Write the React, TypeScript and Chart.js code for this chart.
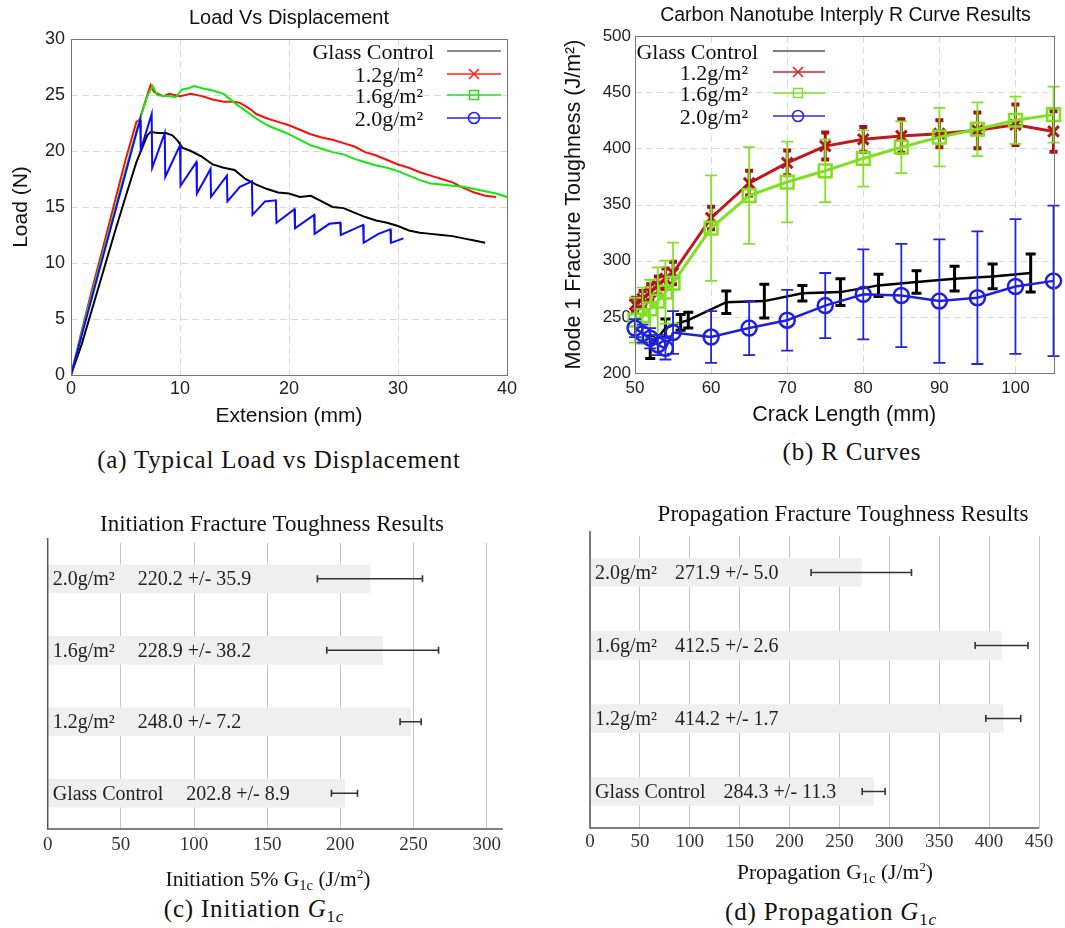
import React, { useEffect, useRef } from "react";
import { Chart, registerables } from "chart.js";

Chart.register(...registerables);

const SANS = "'Liberation Sans', Arial, sans-serif";
const SERIF = "'Liberation Serif', 'Times New Roman', serif";

// ---------------- (a) Load vs Displacement ----------------
const seriesNames = ["Glass Control", "1.2g/m²", "1.6g/m²", "2.0g/m²"];

const glassExt = [0, 1, 2, 3, 4, 5, 6, 7, 7.3, 8, 8.7, 9.3, 9.8, 10.2, 11, 12, 13, 14, 15, 16, 17, 18, 19, 20, 21, 22, 23, 24, 25, 26, 27, 28, 29, 30, 31, 32, 33, 34, 35, 36, 37, 38];
const glassLoad = [0, 2.8, 6.1, 9.4, 12.7, 15.9, 19.0, 21.4, 21.7, 21.6, 21.6, 21.4, 20.9, 20.3, 20.0, 19.5, 18.8, 18.5, 18.3, 17.5, 17.0, 16.6, 16.3, 16.2, 15.9, 16.0, 15.5, 15.0, 14.9, 14.5, 14.1, 13.8, 13.6, 13.3, 12.9, 12.7, 12.6, 12.5, 12.4, 12.2, 12.0, 11.8];

const cnt12Ext = [0, 1, 2, 3, 4, 5, 6, 6.3, 7, 7.3, 7.6, 8, 8.5, 9, 9.5, 10, 11, 12, 13, 14, 15, 15.5, 16, 16.5, 17, 18, 19, 20, 21, 22, 23, 24, 25, 26, 27, 28, 29, 30, 31, 32, 33, 34, 35, 36, 37, 38, 39];
const cnt12Load = [0, 4.0, 7.9, 11.6, 15.4, 19.2, 22.6, 22.8, 25.0, 25.9, 25.3, 25.1, 24.9, 25.1, 25.0, 24.9, 25.1, 24.9, 24.6, 24.4, 24.4, 24.3, 24.0, 23.7, 23.3, 22.9, 22.6, 22.3, 21.9, 21.5, 21.2, 21.0, 20.7, 20.4, 19.9, 19.6, 19.2, 18.8, 18.5, 18.1, 17.8, 17.5, 17.2, 16.7, 16.3, 16.0, 15.9];

const cnt16Ext = [0, 1, 2, 3, 4, 5, 6, 6.4, 7, 7.5, 7.9, 8.5, 9, 9.6, 10.2, 10.8, 11.3, 12, 13, 14, 14.5, 15, 16, 17, 18, 19, 20, 21, 22, 23, 24, 25, 26, 27, 28, 29, 30, 31, 32, 33, 34, 35, 36, 37, 38, 39, 40];
const cnt16Load = [0, 3.8, 7.5, 11.1, 14.7, 18.3, 21.8, 23.1, 24.9, 25.8, 25.0, 24.9, 24.9, 24.8, 25.5, 25.6, 25.8, 25.6, 25.4, 25.1, 24.7, 24.3, 23.6, 22.9, 22.3, 21.9, 21.5, 21.0, 20.5, 20.2, 19.9, 19.7, 19.3, 19.0, 18.7, 18.5, 18.2, 17.8, 17.4, 17.1, 17.0, 16.9, 16.8, 16.6, 16.4, 16.2, 15.9];

const cnt20Ext = [0, 1, 2, 3, 4, 5, 6, 6.35, 6.4, 7.4, 7.45, 8.6, 8.65, 10.0, 10.05, 11.5, 11.55, 12.8, 12.85, 14.3, 14.35, 15.5, 16.6, 16.65, 17.8, 18.8, 18.85, 20.5, 20.55, 22.3, 22.35, 23.7, 24.7, 24.75, 26.8, 26.85, 28.2, 29.3, 29.35, 30.5];
const cnt20Load = [0, 3.6, 7.2, 10.8, 14.4, 18.0, 21.6, 22.8, 20.1, 23.3, 18.5, 21.6, 17.7, 20.5, 16.9, 19.0, 16.2, 18.4, 15.9, 17.8, 15.5, 16.8, 17.3, 14.3, 15.5, 15.6, 13.6, 14.8, 13.1, 14.3, 12.6, 13.5, 13.6, 12.5, 13.4, 11.8, 12.6, 13.0, 11.8, 12.2];

// ---------------- (b) R curves ----------------
const rGlassLen = [52, 54, 56, 57, 62, 67, 72, 77, 82, 87, 92, 97, 102];
const rGlassG = [223, 240, 245, 247, 263, 264, 271, 272, 278, 281, 284, 286, 289];
const rGlassErr = [10, 8, 7, 7, 10, 15, 7, 12, 10, 10, 11, 11, 17];

const rCntLen = [50, 51, 52, 53, 54, 55, 60, 65, 70, 75, 80, 85, 90, 95, 100, 105];
const r12G = [261, 266, 272, 278, 284, 289, 338, 369, 387, 402, 408, 411, 413, 416, 421, 415];
const r12Err = [6, 7, 7, 8, 9, 10, 10, 11, 11, 12, 11, 15, 12, 16, 18, 18];
const r16G = [247, 251, 257, 264, 272, 280, 329, 358, 370, 380, 391, 401, 410, 417, 425, 430];
const r16Err = [20, 25, 26, 30, 28, 36, 47, 43, 36, 28, 25, 23, 26, 24, 21, 25];
const r20G = [240, 235, 231, 225, 222, 236, 232, 240, 247, 260, 270, 269, 264, 267, 277, 282];
const r20Err = [8, 8, 9, 9, 10, 19, 23, 24, 27, 29, 40, 46, 55, 59, 60, 67];

// ---------------- (c), (d) bar charts ----------------
const barCategories = ["2.0g/m²", "1.6g/m²", "1.2g/m²", "Glass Control"];
const initMean = [220.2, 228.9, 248.0, 202.8];
const initSD = [35.9, 38.2, 7.2, 8.9];
const propMean = [271.9, 412.5, 414.2, 284.3];
const propSD = [5.0, 2.6, 1.7, 11.3];
const propErrBar = [50.3, 26.5, 17.5, 11.5];

// ---------------- helpers ----------------
const pts = (xs: number[], ys: number[]) => xs.map((x, i) => ({ x, y: ys[i] }));

function drawMarker(ctx: CanvasRenderingContext2D, kind: string, x: number, y: number, s: number) {
  ctx.beginPath();
  if (kind === "cross") {
    ctx.moveTo(x - s, y - s); ctx.lineTo(x + s, y + s);
    ctx.moveTo(x - s, y + s); ctx.lineTo(x + s, y - s);
  } else if (kind === "rect") {
    ctx.rect(x - s, y - s, 2 * s, 2 * s);
  } else if (kind === "circle") {
    ctx.arc(x, y, s, 0, Math.PI * 2);
  }
  ctx.stroke();
}

const textPlugin = (items: any[]) => ({
  id: "texts",
  afterDraw(chart: any) {
    const ctx = chart.ctx;
    ctx.save();
    items.forEach((it) => {
      ctx.font = it.font;
      ctx.fillStyle = it.color || "#111";
      ctx.textAlign = "center";
      ctx.textBaseline = "middle";
      ctx.fillText(it.text, it.x, it.y);
    });
    ctx.restore();
  },
});

const gridBoxPlugin = (o: any) => ({
  id: "gridBox",
  beforeDatasetsDraw(chart: any) {
    const { ctx, chartArea: a, scales } = chart;
    ctx.save();
    ctx.strokeStyle = o.gridColor;
    ctx.lineWidth = 1;
    ctx.setLineDash(o.dash);
    scales.x.ticks.forEach((t: any) => {
      const px = Math.round(scales.x.getPixelForValue(t.value)) + 0.5;
      if (px > a.left + 2 && px < a.right - 2) {
        ctx.beginPath(); ctx.moveTo(px, a.top); ctx.lineTo(px, a.bottom); ctx.stroke();
      }
    });
    scales.y.ticks.forEach((t: any) => {
      const py = Math.round(scales.y.getPixelForValue(t.value)) + 0.5;
      if (py > a.top + 2 && py < a.bottom - 2) {
        ctx.beginPath(); ctx.moveTo(a.left, py); ctx.lineTo(a.right, py); ctx.stroke();
      }
    });
    ctx.restore();
  },
  afterDatasetsDraw(chart: any) {
    const { ctx, chartArea: a } = chart;
    ctx.save();
    ctx.strokeStyle = o.boxColor;
    ctx.lineWidth = 1;
    ctx.strokeRect(Math.round(a.left) + 0.5, Math.round(a.top) + 0.5, Math.round(a.right - a.left), Math.round(a.bottom - a.top));
    ctx.restore();
  },
});

const legendPlugin = (o: any) => ({
  id: "lineLegend",
  afterDraw(chart: any) {
    const ctx = chart.ctx;
    ctx.save();
    o.entries.forEach((e: any, i: number) => {
      const y = o.rows[i];
      ctx.font = o.font;
      ctx.fillStyle = "#111";
      ctx.textAlign = "right";
      ctx.textBaseline = "alphabetic";
      ctx.fillText(e.text, o.textRight[i], y + o.baseline);
      ctx.strokeStyle = e.color;
      ctx.lineWidth = o.lineWidth;
      ctx.beginPath(); ctx.moveTo(o.x1, y); ctx.lineTo(o.x2, y); ctx.stroke();
      if (e.marker !== "none") drawMarker(ctx, e.marker, o.mx, y, e.size);
    });
    ctx.restore();
  },
});

const errorBarPlugin = {
  id: "rErrors",
  afterDatasetDraw(chart: any, args: any) {
    const ds = chart.data.datasets[args.index];
    if (!ds.errors) return;
    const { ctx, scales } = chart;
    const st = ds.errStyle;
    ctx.save();
    ctx.strokeStyle = st.color;
    ds.data.forEach((p: any, i: number) => {
      const e = ds.errors[i];
      const x = scales.x.getPixelForValue(p.x);
      const y1 = scales.y.getPixelForValue(p.y + e);
      const y2 = scales.y.getPixelForValue(p.y - e);
      ctx.lineWidth = st.width;
      ctx.beginPath(); ctx.moveTo(x, y1); ctx.lineTo(x, y2); ctx.stroke();
      ctx.lineWidth = st.capWidth;
      ctx.beginPath();
      ctx.moveTo(x - st.cap, y1); ctx.lineTo(x + st.cap, y1);
      ctx.moveTo(x - st.cap, y2); ctx.lineTo(x + st.cap, y2);
      ctx.stroke();
    });
    ctx.restore();
  },
};

const barDecorPlugin = (o: any) => ({
  id: "barDecor",
  afterDatasetsDraw(chart: any) {
    const { ctx, chartArea: a, scales } = chart;
    const meta = chart.getDatasetMeta(0);
    ctx.save();
    ctx.strokeStyle = "#555";
    ctx.lineWidth = 1.5;
    ctx.beginPath();
    ctx.moveTo(a.left, a.top - o.axisExtra);
    ctx.lineTo(a.left, a.bottom);
    ctx.lineTo(a.right, a.bottom);
    ctx.stroke();
    meta.data.forEach((bar: any, i: number) => {
      const y = bar.y;
      const lo = scales.x.getPixelForValue(o.means[i] - o.errs[i]);
      const hi = scales.x.getPixelForValue(o.means[i] + o.errs[i]);
      ctx.strokeStyle = "#333";
      ctx.lineWidth = 1.6;
      ctx.beginPath();
      ctx.moveTo(lo, y); ctx.lineTo(hi, y);
      ctx.moveTo(lo, y - 3.5); ctx.lineTo(lo, y + 3.5);
      ctx.moveTo(hi, y - 3.5); ctx.lineTo(hi, y + 3.5);
      ctx.stroke();
      ctx.font = `20px ${SERIF}`;
      ctx.fillStyle = "#222";
      ctx.textAlign = "left";
      ctx.textBaseline = "middle";
      const name = o.names[i];
      const x0 = a.left + 5;
      ctx.fillText(name, x0, y + 1);
      const w = ctx.measureText(name).width;
      ctx.fillText(`${o.means[i].toFixed(1)} +/- ${o.sds[i].toFixed(1)}`, x0 + w + o.gap, y + 1);
    });
    ctx.restore();
  },
});

// ---------------- configs ----------------
function configA(): any {
  return {
    type: "scatter",
    data: {
      datasets: [
        { label: seriesNames[0], data: pts(glassExt, glassLoad), showLine: true, borderColor: "#000", order: 4 },
        { label: seriesNames[1], data: pts(cnt12Ext, cnt12Load), showLine: true, borderColor: "#ff0d0d", order: 3 },
        { label: seriesNames[2], data: pts(cnt16Ext, cnt16Load), showLine: true, borderColor: "#12e812", order: 2 },
        { label: seriesNames[3], data: pts(cnt20Ext, cnt20Load), showLine: true, borderColor: "#0b0bff", order: 1 },
      ],
    },
    options: {
      responsive: false,
      animation: false,
      devicePixelRatio: 1,
      layout: { padding: { left: 0, right: 23, top: 39, bottom: 0 } },
      elements: { point: { radius: 0 }, line: { borderWidth: 2, tension: 0 } },
      plugins: { legend: { display: false }, tooltip: { enabled: false }, title: { display: false } },
      scales: {
        x: {
          type: "linear", min: 0, max: 40,
          ticks: { stepSize: 10, font: { family: SANS, size: 18 }, color: "#222", padding: 3 },
          grid: { display: false, drawTicks: false }, border: { display: false },
          title: { display: true, text: "Extension (mm)", font: { family: SANS, size: 21 }, color: "#111", padding: { top: 0, bottom: 6.4 } },
          afterFit: (s: any) => { s.height = 60; },
        },
        y: {
          type: "linear", min: 0, max: 30,
          ticks: { stepSize: 5, font: { family: SANS, size: 18 }, color: "#222", padding: 6 },
          grid: { display: false, drawTicks: false }, border: { display: false },
          title: { display: true, text: "Load (N)", font: { family: SANS, size: 21 }, color: "#111", padding: { top: 8.4, bottom: 0 } },
          afterFit: (s: any) => { s.width = 71; },
        },
      },
    },
    plugins: [
      gridBoxPlugin({ gridColor: "#dadada", dash: [7, 4], boxColor: "#777" }),
      textPlugin([{ text: "Load Vs Displacement", x: 289, y: 18, font: `20px ${SANS}`, color: "#111" }]),
      legendPlugin({
        entries: [
          { text: seriesNames[0], color: "#666", marker: "none", size: 0 },
          { text: seriesNames[1], color: "#ff2020", marker: "cross", size: 5 },
          { text: seriesNames[2], color: "#22e022", marker: "rect", size: 4.5 },
          { text: seriesNames[3], color: "#2020ff", marker: "circle", size: 5.5 },
        ],
        rows: [51, 74, 95, 118], textRight: [434, 423, 423, 423], baseline: 8,
        x1: 447, x2: 501, mx: 474, font: `22px ${SERIF}`, lineWidth: 1.6,
      }),
    ],
  };
}

function configB(): any {
  return {
    type: "scatter",
    data: {
      datasets: [
        {
          label: seriesNames[0], data: pts(rGlassLen, rGlassG), showLine: true, borderColor: "#000", borderWidth: 2.5,
          pointRadius: 0, order: 4, clip: false,
          errors: rGlassErr, errStyle: { color: "#000", width: 3, cap: 5, capWidth: 3 },
        },
        {
          label: seriesNames[1], data: pts(rCntLen, r12G), showLine: true, borderColor: "#c0181c", borderWidth: 3,
          pointStyle: "crossRot", pointRadius: 7.5, pointBorderWidth: 3, pointBorderColor: "#b51519",
          pointBackgroundColor: "rgba(0,0,0,0)", order: 3, clip: false,
          errors: r12Err, errStyle: { color: "#a51212", width: 3, cap: 4, capWidth: 4 },
        },
        {
          label: seriesNames[2], data: pts(rCntLen, r16G), showLine: true, borderColor: "#7fe020", borderWidth: 3,
          pointStyle: "rect", pointRadius: 9, pointBorderWidth: 2.5, pointBorderColor: "#7fe020",
          pointBackgroundColor: "rgba(0,0,0,0)", order: 2, clip: false,
          errors: r16Err, errStyle: { color: "#86e02a", width: 1.8, cap: 6, capWidth: 1.8 },
        },
        {
          label: seriesNames[3], data: pts(rCntLen, r20G), showLine: true, borderColor: "#1f1fe0", borderWidth: 2.5,
          pointStyle: "circle", pointRadius: 7.5, pointBorderWidth: 2.5, pointBorderColor: "#1f1fe0",
          pointBackgroundColor: "rgba(0,0,0,0)", order: 1, clip: false,
          errors: r20Err, errStyle: { color: "#2323e0", width: 1.8, cap: 6, capWidth: 1.8 },
        },
      ],
    },
    options: {
      responsive: false,
      animation: false,
      devicePixelRatio: 1,
      layout: { padding: { left: 0, right: 9, top: 36, bottom: 0 } },
      elements: { line: { tension: 0 } },
      plugins: { legend: { display: false }, tooltip: { enabled: false }, title: { display: false } },
      scales: {
        x: {
          type: "linear", min: 50, max: 105,
          ticks: { stepSize: 10, includeBounds: false, font: { family: SANS, size: 17 }, color: "#222", padding: 5 },
          grid: { display: false, drawTicks: false }, border: { display: false },
          title: { display: true, text: "Crack Length (mm)", font: { family: SANS, size: 21.5 }, color: "#111", padding: { top: 0, bottom: 7 } },
          afterFit: (s: any) => { s.height = 62; },
        },
        y: {
          type: "linear", min: 200, max: 500,
          ticks: { stepSize: 50, font: { family: SANS, size: 17 }, color: "#222", padding: 4 },
          grid: { display: false, drawTicks: false }, border: { display: false },
          title: { display: true, text: "Mode 1 Fracture Toughness (J/m²)", font: { family: SANS, size: 21.5 }, color: "#111", padding: { top: 31, bottom: 0 } },
          afterFit: (s: any) => { s.width = 105; },
        },
      },
    },
    plugins: [
      gridBoxPlugin({ gridColor: "#dadada", dash: [7, 4], boxColor: "#777" }),
      errorBarPlugin,
      textPlugin([{ text: "Carbon Nanotube Interply R Curve Results", x: 315.5, y: 16, font: `19.5px ${SANS}`, color: "#111" }]),
      legendPlugin({
        entries: [
          { text: seriesNames[0], color: "#555", marker: "none", size: 0 },
          { text: seriesNames[1], color: "#cc2a2a", marker: "cross", size: 5 },
          { text: seriesNames[2], color: "#7ddc3a", marker: "rect", size: 4.5 },
          { text: seriesNames[3], color: "#2a2ae0", marker: "circle", size: 5.5 },
        ],
        rows: [51, 72, 93, 116], textRight: [228, 218, 218, 218], baseline: 7.5,
        x1: 243, x2: 295, mx: 268, font: `22px ${SERIF}`, lineWidth: 1.6,
      }),
    ],
  };
}

function configBar(p: any): any {
  return {
    type: "bar",
    data: {
      labels: barCategories,
      datasets: [{ data: p.means, backgroundColor: "#efefef", borderWidth: 0, barThickness: 28 }],
    },
    options: {
      indexAxis: "y",
      responsive: false,
      animation: false,
      devicePixelRatio: 1,
      layout: { padding: { left: 0, right: p.padRight, top: p.padTop, bottom: 0 } },
      plugins: { legend: { display: false }, tooltip: { enabled: false }, title: { display: false } },
      scales: {
        x: {
          type: "linear", min: 0, max: p.max,
          ticks: { stepSize: 50, includeBounds: false, font: { family: SERIF, size: 19 }, color: "#333", padding: p.tickPad },
          grid: { color: "#c4c4c4", lineWidth: 1, drawTicks: false }, border: { display: false },
          afterFit: (s: any) => { s.height = p.xHeight; },
        },
        y: {
          ticks: { display: false }, grid: { display: false }, border: { display: false },
          afterFit: (s: any) => { s.width = p.yWidth; },
        },
      },
    },
    plugins: [
      barDecorPlugin({ means: p.means, errs: p.errs, sds: p.sds, names: barCategories, gap: p.gap, axisExtra: 5 }),
      textPlugin([{ text: p.title, x: p.titleX, y: p.titleY, font: `23px ${SERIF}`, color: "#111" }]),
    ],
  };
}

function ChartBox(props: { left: number; top: number; width: number; height: number; make: () => any }) {
  const ref = useRef<HTMLCanvasElement>(null);
  useEffect(() => {
    const chart = new Chart(ref.current as HTMLCanvasElement, props.make());
    return () => chart.destroy();
  }, []);
  return (
    <canvas
      ref={ref}
      width={props.width}
      height={props.height}
      style={{ position: "absolute", left: props.left, top: props.top, width: props.width, height: props.height }}
    />
  );
}

function Label(props: { cx: number; cy: number; size: number; family: string; spacing?: number; children: any }) {
  const w = 600;
  return (
    <div
      style={{
        position: "absolute", left: props.cx - w / 2, top: props.cy - props.size * 0.6, width: w,
        textAlign: "center", fontFamily: props.family, fontSize: props.size, lineHeight: `${props.size * 1.2}px`,
        color: "#111", whiteSpace: "nowrap", letterSpacing: props.spacing ? `${props.spacing}px` : undefined,
      }}
    >
      {props.children}
    </div>
  );
}

const subStyle: any = { fontSize: "0.68em", verticalAlign: "-0.3em", lineHeight: 0 };
const supStyle: any = { fontSize: "0.62em", verticalAlign: "0.6em", lineHeight: 0 };

export default function App() {
  return (
    <div style={{ position: "absolute", left: 0, top: 0, width: 1065, height: 928, background: "#fff", overflow: "hidden" }}>
      <ChartBox left={0} top={0} width={530} height={435} make={configA} />
      <ChartBox left={530} top={0} width={535} height={435} make={configB} />
      <ChartBox
        left={0} top={490} width={530} height={380}
        make={() => configBar({
          means: initMean, errs: initSD, sds: initSD, max: 311, padRight: 27.2, padTop: 53, xHeight: 41,
          yWidth: 47.7, tickPad: 4.6, gap: 23, title: "Initiation Fracture Toughness Results", titleX: 272, titleY: 35,
        })}
      />
      <ChartBox
        left={540} top={490} width={525} height={380}
        make={() => configBar({
          means: propMean, errs: propErrBar, sds: propSD, max: 450, padRight: 26, padTop: 46, xHeight: 42,
          yWidth: 50, tickPad: 2.6, gap: 18, title: "Propagation Fracture Toughness Results", titleX: 303, titleY: 25,
        })}
      />
      <Label cx={279} cy={460} size={25} family={SERIF} spacing={0.8}>(a) Typical Load vs Displacement</Label>
      <Label cx={852} cy={452} size={25} family={SERIF} spacing={0.8}>(b) R Curves</Label>
      <Label cx={268} cy={880} size={21.5} family={SERIF}>
        Initiation 5% G<span style={subStyle}>1c</span> (J/m<span style={supStyle}>2</span>)
      </Label>
      <Label cx={835} cy={873} size={21.5} family={SERIF}>
        Propagation G<span style={subStyle}>1c</span> (J/m<span style={supStyle}>2</span>)
      </Label>
      <Label cx={254} cy={909} size={25} family={SERIF} spacing={0.8}>
        (c) Initiation <i>G</i><span style={subStyle}>1<i>c</i></span>
      </Label>
      <Label cx={831} cy={912} size={25} family={SERIF} spacing={0.8}>
        (d) Propagation <i>G</i><span style={subStyle}>1<i>c</i></span>
      </Label>
    </div>
  );
}
